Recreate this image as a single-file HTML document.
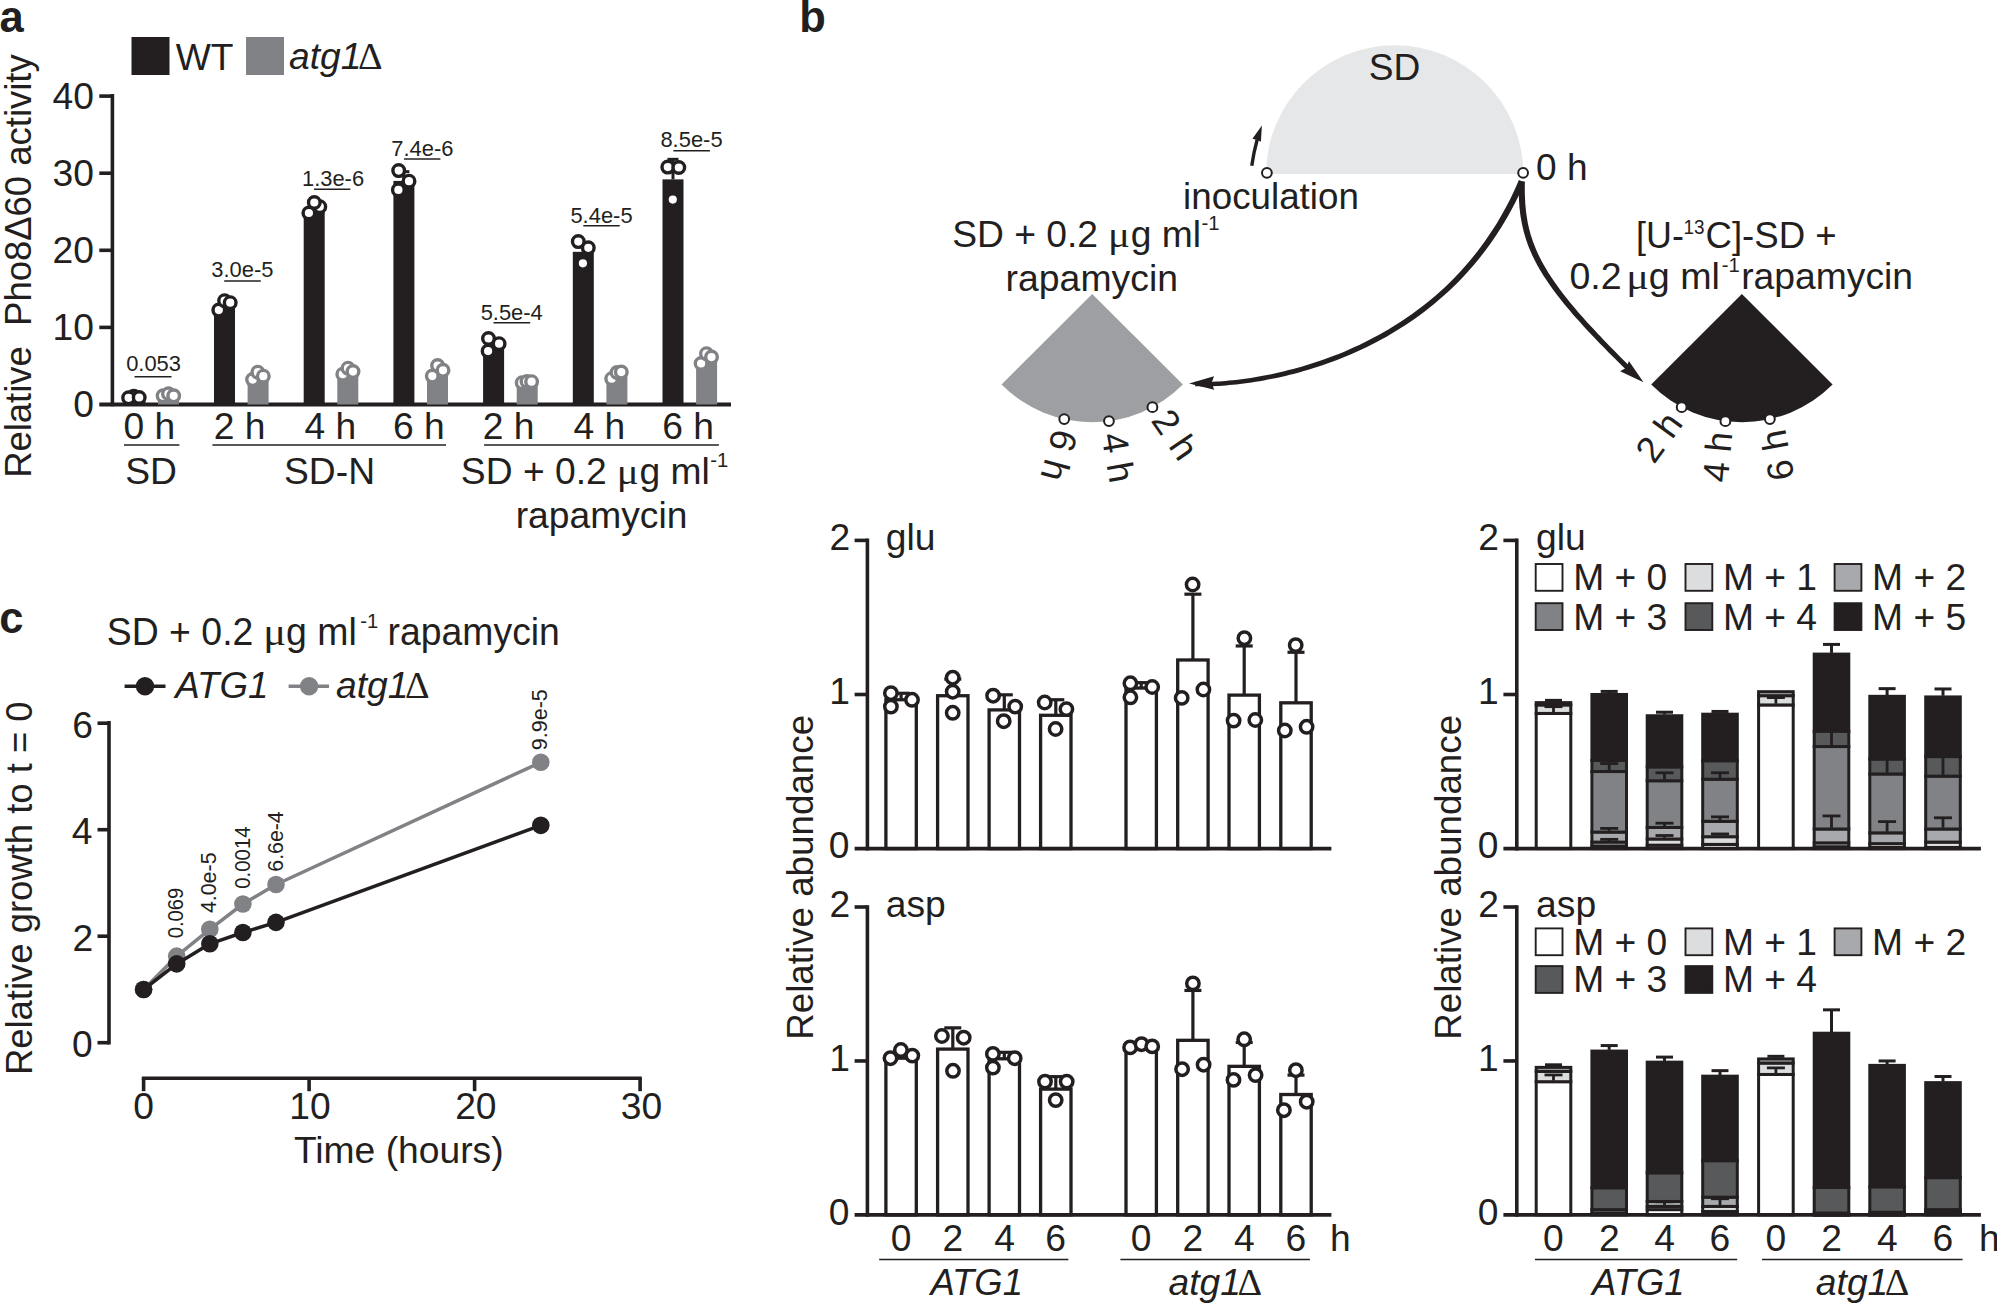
<!DOCTYPE html>
<html><head><meta charset="utf-8"><title>Figure</title>
<style>html,body{margin:0;padding:0;background:#fff}svg{display:block}</style></head>
<body><svg width="1997" height="1304" viewBox="0 0 1997 1304">
<rect width="1997" height="1304" fill="#fff"/>
<text transform="translate(0.75,31.70)" x="-1.30" y="0" font-family='"Liberation Sans", sans-serif' font-size="43.5" fill="#231f20" font-weight="bold">a</text>
<rect x="131.50" y="37.00" width="38.00" height="38.00" fill="#231f20"/>
<text transform="translate(175.80,69.60) scale(1.02,1)" x="-0.18" y="0" font-family='"Liberation Sans", sans-serif' font-size="36.5" fill="#231f20">WT</text>
<rect x="246.00" y="37.00" width="38.00" height="38.00" fill="#808285"/>
<text transform="translate(289.80,69.40) scale(1.02,1)" x="-0.73" y="0" font-family='"Liberation Sans", sans-serif' font-size="36.5" fill="#231f20" font-style="italic">atg1</text>
<text transform="translate(359.50,69.40) scale(1.02,1)" x="-1.50" y="0" font-family='"Liberation Serif", serif' font-size="37.5" fill="#231f20">Δ</text>
<line x1="112.40" y1="94.10" x2="112.40" y2="406.30" stroke="#231f20" stroke-width="3.6" stroke-linecap="butt"/>
<line x1="99.30" y1="404.50" x2="731.00" y2="404.50" stroke="#231f20" stroke-width="4" stroke-linecap="butt"/>
<line x1="99.30" y1="327.40" x2="112.40" y2="327.40" stroke="#231f20" stroke-width="3.6" stroke-linecap="butt"/>
<line x1="99.30" y1="250.30" x2="112.40" y2="250.30" stroke="#231f20" stroke-width="3.6" stroke-linecap="butt"/>
<line x1="99.30" y1="173.20" x2="112.40" y2="173.20" stroke="#231f20" stroke-width="3.6" stroke-linecap="butt"/>
<line x1="99.30" y1="96.10" x2="112.40" y2="96.10" stroke="#231f20" stroke-width="3.6" stroke-linecap="butt"/>
<text transform="translate(92.50,417.30) scale(1.02,1)" x="-18.98" y="0" font-family='"Liberation Sans", sans-serif' font-size="36.5" fill="#231f20">0</text>
<text transform="translate(92.50,340.20) scale(1.02,1)" x="-39.24" y="0" font-family='"Liberation Sans", sans-serif' font-size="36.5" fill="#231f20">10</text>
<text transform="translate(92.50,263.10) scale(1.02,1)" x="-39.24" y="0" font-family='"Liberation Sans", sans-serif' font-size="36.5" fill="#231f20">20</text>
<text transform="translate(92.50,186.00) scale(1.02,1)" x="-39.24" y="0" font-family='"Liberation Sans", sans-serif' font-size="36.5" fill="#231f20">30</text>
<text transform="translate(92.50,108.90) scale(1.02,1)" x="-39.24" y="0" font-family='"Liberation Sans", sans-serif' font-size="36.5" fill="#231f20">40</text>
<text transform="translate(31.00,264.50) rotate(-90) scale(0.9993,1)" x="-213.52" y="0" font-family='"Liberation Sans", sans-serif' font-size="36.5" fill="#231f20">Relative  Pho8Δ60 activity</text>
<rect x="124.40" y="396.79" width="21.00" height="7.71" fill="#231f20"/>
<rect x="158.00" y="396.02" width="21.00" height="8.48" fill="#808285"/>
<rect x="214.00" y="305.81" width="21.00" height="98.69" fill="#231f20"/>
<rect x="247.60" y="378.29" width="21.00" height="26.21" fill="#808285"/>
<line x1="224.50" y1="305.81" x2="224.50" y2="302.73" stroke="#231f20" stroke-width="3" stroke-linecap="butt"/>
<line x1="219.00" y1="302.73" x2="230.00" y2="302.73" stroke="#231f20" stroke-width="3" stroke-linecap="butt"/>
<rect x="303.70" y="209.44" width="21.00" height="195.06" fill="#231f20"/>
<rect x="337.30" y="373.66" width="21.00" height="30.84" fill="#808285"/>
<line x1="314.20" y1="209.44" x2="314.20" y2="204.81" stroke="#231f20" stroke-width="3" stroke-linecap="butt"/>
<line x1="308.70" y1="204.81" x2="319.70" y2="204.81" stroke="#231f20" stroke-width="3" stroke-linecap="butt"/>
<rect x="393.40" y="180.91" width="21.00" height="223.59" fill="#231f20"/>
<rect x="427.00" y="371.35" width="21.00" height="33.15" fill="#808285"/>
<line x1="403.90" y1="180.91" x2="403.90" y2="171.66" stroke="#231f20" stroke-width="3" stroke-linecap="butt"/>
<line x1="398.40" y1="171.66" x2="409.40" y2="171.66" stroke="#231f20" stroke-width="3" stroke-linecap="butt"/>
<rect x="483.10" y="345.90" width="21.00" height="58.60" fill="#231f20"/>
<rect x="516.70" y="382.14" width="21.00" height="22.36" fill="#808285"/>
<line x1="493.60" y1="345.90" x2="493.60" y2="339.74" stroke="#231f20" stroke-width="3" stroke-linecap="butt"/>
<line x1="488.10" y1="339.74" x2="499.10" y2="339.74" stroke="#231f20" stroke-width="3" stroke-linecap="butt"/>
<rect x="572.80" y="251.84" width="21.00" height="152.66" fill="#231f20"/>
<rect x="606.40" y="374.43" width="21.00" height="30.07" fill="#808285"/>
<line x1="583.30" y1="251.84" x2="583.30" y2="242.59" stroke="#231f20" stroke-width="3" stroke-linecap="butt"/>
<line x1="577.80" y1="242.59" x2="588.80" y2="242.59" stroke="#231f20" stroke-width="3" stroke-linecap="butt"/>
<rect x="662.50" y="179.37" width="21.00" height="225.13" fill="#231f20"/>
<rect x="696.10" y="360.55" width="21.00" height="43.95" fill="#808285"/>
<line x1="673.00" y1="179.37" x2="673.00" y2="159.32" stroke="#231f20" stroke-width="3" stroke-linecap="butt"/>
<line x1="667.50" y1="159.32" x2="678.50" y2="159.32" stroke="#231f20" stroke-width="3" stroke-linecap="butt"/>
<circle cx="133.80" cy="396.30" r="5.8" fill="#fff" stroke="#231f20" stroke-width="3.4"/>
<circle cx="128.60" cy="397.80" r="5.8" fill="#fff" stroke="#231f20" stroke-width="3.4"/>
<circle cx="139.20" cy="397.50" r="5.8" fill="#fff" stroke="#231f20" stroke-width="3.4"/>
<circle cx="218.80" cy="310.10" r="5.8" fill="#fff" stroke="#231f20" stroke-width="3.4"/>
<circle cx="224.60" cy="300.70" r="5.8" fill="#fff" stroke="#231f20" stroke-width="3.4"/>
<circle cx="230.20" cy="302.70" r="5.8" fill="#fff" stroke="#231f20" stroke-width="3.4"/>
<circle cx="319.80" cy="206.70" r="5.8" fill="#fff" stroke="#231f20" stroke-width="3.4"/>
<circle cx="308.90" cy="213.00" r="5.8" fill="#fff" stroke="#231f20" stroke-width="3.4"/>
<circle cx="314.30" cy="202.50" r="5.8" fill="#fff" stroke="#231f20" stroke-width="3.4"/>
<circle cx="398.40" cy="189.90" r="5.8" fill="#fff" stroke="#231f20" stroke-width="3.4"/>
<circle cx="398.70" cy="170.60" r="5.8" fill="#fff" stroke="#231f20" stroke-width="3.4"/>
<circle cx="409.00" cy="181.20" r="5.8" fill="#fff" stroke="#231f20" stroke-width="3.4"/>
<circle cx="488.50" cy="338.50" r="5.8" fill="#fff" stroke="#231f20" stroke-width="3.4"/>
<circle cx="499.10" cy="343.70" r="5.8" fill="#fff" stroke="#231f20" stroke-width="3.4"/>
<circle cx="488.10" cy="351.10" r="5.8" fill="#fff" stroke="#231f20" stroke-width="3.4"/>
<circle cx="578.30" cy="241.60" r="5.8" fill="#fff" stroke="#231f20" stroke-width="3.4"/>
<circle cx="588.30" cy="247.80" r="5.8" fill="#fff" stroke="#231f20" stroke-width="3.4"/>
<circle cx="582.90" cy="263.30" r="5.8" fill="#fff" stroke="#231f20" stroke-width="3.4"/>
<circle cx="667.80" cy="167.10" r="5.8" fill="#fff" stroke="#231f20" stroke-width="3.4"/>
<circle cx="678.80" cy="167.50" r="5.8" fill="#fff" stroke="#231f20" stroke-width="3.4"/>
<circle cx="672.80" cy="199.60" r="5.8" fill="#fff" stroke="#231f20" stroke-width="3.4"/>
<circle cx="163.10" cy="395.80" r="5.8" fill="#fff" stroke="#808285" stroke-width="3.4"/>
<circle cx="168.50" cy="393.80" r="5.8" fill="#fff" stroke="#808285" stroke-width="3.4"/>
<circle cx="173.70" cy="395.80" r="5.8" fill="#fff" stroke="#808285" stroke-width="3.4"/>
<circle cx="252.60" cy="379.60" r="5.8" fill="#fff" stroke="#808285" stroke-width="3.4"/>
<circle cx="257.80" cy="372.20" r="5.8" fill="#fff" stroke="#808285" stroke-width="3.4"/>
<circle cx="263.30" cy="376.20" r="5.8" fill="#fff" stroke="#808285" stroke-width="3.4"/>
<circle cx="342.80" cy="374.20" r="5.8" fill="#fff" stroke="#808285" stroke-width="3.4"/>
<circle cx="348.00" cy="368.20" r="5.8" fill="#fff" stroke="#808285" stroke-width="3.4"/>
<circle cx="353.00" cy="371.60" r="5.8" fill="#fff" stroke="#808285" stroke-width="3.4"/>
<circle cx="432.30" cy="376.10" r="5.8" fill="#fff" stroke="#808285" stroke-width="3.4"/>
<circle cx="437.60" cy="365.50" r="5.8" fill="#fff" stroke="#808285" stroke-width="3.4"/>
<circle cx="443.00" cy="370.30" r="5.8" fill="#fff" stroke="#808285" stroke-width="3.4"/>
<circle cx="522.20" cy="382.70" r="5.8" fill="#fff" stroke="#808285" stroke-width="3.4"/>
<circle cx="527.00" cy="381.50" r="5.8" fill="#fff" stroke="#808285" stroke-width="3.4"/>
<circle cx="531.60" cy="381.70" r="5.8" fill="#fff" stroke="#808285" stroke-width="3.4"/>
<circle cx="611.70" cy="378.70" r="5.8" fill="#fff" stroke="#808285" stroke-width="3.4"/>
<circle cx="617.00" cy="372.50" r="5.8" fill="#fff" stroke="#808285" stroke-width="3.4"/>
<circle cx="621.30" cy="372.10" r="5.8" fill="#fff" stroke="#808285" stroke-width="3.4"/>
<circle cx="701.10" cy="363.50" r="5.8" fill="#fff" stroke="#808285" stroke-width="3.4"/>
<circle cx="706.50" cy="353.70" r="5.8" fill="#fff" stroke="#808285" stroke-width="3.4"/>
<circle cx="711.50" cy="357.10" r="5.8" fill="#fff" stroke="#808285" stroke-width="3.4"/>
<text transform="translate(127.00,371.20) scale(1.02,1)" x="-0.86" y="0" font-family='"Liberation Sans", sans-serif' font-size="21.5" fill="#231f20">0.053</text>
<line x1="134.50" y1="376.80" x2="171.50" y2="376.80" stroke="#231f20" stroke-width="1.5" stroke-linecap="butt"/>
<text transform="translate(212.20,276.90) scale(1.02,1)" x="-0.86" y="0" font-family='"Liberation Sans", sans-serif' font-size="21.5" fill="#231f20">3.0e-5</text>
<line x1="224.20" y1="281.00" x2="260.80" y2="281.00" stroke="#231f20" stroke-width="1.5" stroke-linecap="butt"/>
<text transform="translate(303.60,185.70) scale(1.02,1)" x="-1.61" y="0" font-family='"Liberation Sans", sans-serif' font-size="21.5" fill="#231f20">1.3e-6</text>
<line x1="314.00" y1="189.30" x2="350.30" y2="189.30" stroke="#231f20" stroke-width="1.5" stroke-linecap="butt"/>
<text transform="translate(392.40,156.20) scale(1.02,1)" x="-1.07" y="0" font-family='"Liberation Sans", sans-serif' font-size="21.5" fill="#231f20">7.4e-6</text>
<line x1="404.00" y1="159.00" x2="440.40" y2="159.00" stroke="#231f20" stroke-width="1.5" stroke-linecap="butt"/>
<text transform="translate(481.50,319.50) scale(1.02,1)" x="-0.86" y="0" font-family='"Liberation Sans", sans-serif' font-size="21.5" fill="#231f20">5.5e-4</text>
<line x1="493.50" y1="322.70" x2="530.20" y2="322.70" stroke="#231f20" stroke-width="1.5" stroke-linecap="butt"/>
<text transform="translate(571.30,223.40) scale(1.02,1)" x="-0.86" y="0" font-family='"Liberation Sans", sans-serif' font-size="21.5" fill="#231f20">5.4e-5</text>
<line x1="583.30" y1="225.80" x2="619.70" y2="225.80" stroke="#231f20" stroke-width="1.5" stroke-linecap="butt"/>
<text transform="translate(661.40,147.20) scale(1.02,1)" x="-0.97" y="0" font-family='"Liberation Sans", sans-serif' font-size="21.5" fill="#231f20">8.5e-5</text>
<line x1="673.40" y1="150.70" x2="709.90" y2="150.70" stroke="#231f20" stroke-width="1.5" stroke-linecap="butt"/>
<text transform="translate(124.90,439.00) scale(1.02,1)" x="-1.46" y="0" font-family='"Liberation Sans", sans-serif' font-size="36.5" fill="#231f20">0 h</text>
<text transform="translate(215.50,439.00) scale(1.02,1)" x="-1.83" y="0" font-family='"Liberation Sans", sans-serif' font-size="36.5" fill="#231f20">2 h</text>
<text transform="translate(305.20,439.00) scale(1.02,1)" x="-0.73" y="0" font-family='"Liberation Sans", sans-serif' font-size="36.5" fill="#231f20">4 h</text>
<text transform="translate(394.90,439.00) scale(1.02,1)" x="-1.83" y="0" font-family='"Liberation Sans", sans-serif' font-size="36.5" fill="#231f20">6 h</text>
<text transform="translate(484.60,439.00) scale(1.02,1)" x="-1.83" y="0" font-family='"Liberation Sans", sans-serif' font-size="36.5" fill="#231f20">2 h</text>
<text transform="translate(574.30,439.00) scale(1.02,1)" x="-0.73" y="0" font-family='"Liberation Sans", sans-serif' font-size="36.5" fill="#231f20">4 h</text>
<text transform="translate(664.00,439.00) scale(1.02,1)" x="-1.83" y="0" font-family='"Liberation Sans", sans-serif' font-size="36.5" fill="#231f20">6 h</text>
<line x1="124.00" y1="445.00" x2="179.40" y2="445.00" stroke="#231f20" stroke-width="1.5" stroke-linecap="butt"/>
<line x1="212.40" y1="445.00" x2="446.00" y2="445.00" stroke="#231f20" stroke-width="1.5" stroke-linecap="butt"/>
<line x1="484.10" y1="445.00" x2="718.90" y2="445.00" stroke="#231f20" stroke-width="1.5" stroke-linecap="butt"/>
<text transform="translate(151.00,484.00) scale(1.02,1)" x="-25.28" y="0" font-family='"Liberation Sans", sans-serif' font-size="36.5" fill="#231f20">SD</text>
<text transform="translate(328.80,484.00) scale(1.02,1)" x="-43.89" y="0" font-family='"Liberation Sans", sans-serif' font-size="36.5" fill="#231f20">SD-N</text>
<text transform="translate(462.50,484.20) scale(1.02,1)" x="-1.64" y="0" font-family='"Liberation Sans", sans-serif' font-size="36.5" fill="#231f20">SD + 0.2</text>
<text transform="translate(619.90,484.20) scale(1.12,1)" x="-2.92" y="0" font-family='"Liberation Serif", serif' font-size="36.5" fill="#231f20">μ</text>
<text transform="translate(640.90,484.20) scale(1.02,1)" x="-1.46" y="0" font-family='"Liberation Sans", sans-serif' font-size="36.5" fill="#231f20">g ml</text>
<text transform="translate(711.17,466.90) scale(1.0385,1)" x="-0.88" y="0" font-family='"Liberation Sans", sans-serif' font-size="19.5" fill="#231f20">-1</text>
<text transform="translate(601.50,528.30) scale(1.02,1)" x="-84.13" y="0" font-family='"Liberation Sans", sans-serif' font-size="36.5" fill="#231f20">rapamycin</text>
<text transform="translate(1.00,633.10)" x="-1.74" y="0" font-family='"Liberation Sans", sans-serif' font-size="43.5" fill="#231f20" font-weight="bold">c</text>
<text transform="translate(108.40,644.90) scale(0.985,1)" x="-1.71" y="0" font-family='"Liberation Sans", sans-serif' font-size="38" fill="#231f20">SD + 0.2</text>
<text transform="translate(266.57,644.90) scale(1.12,1)" x="-3.04" y="0" font-family='"Liberation Serif", serif' font-size="38" fill="#231f20">μ</text>
<text transform="translate(287.57,644.90) scale(0.985,1)" x="-1.52" y="0" font-family='"Liberation Sans", sans-serif' font-size="38" fill="#231f20">g ml</text>
<text transform="translate(361.20,627.60) scale(1.0385,1)" x="-0.88" y="0" font-family='"Liberation Sans", sans-serif' font-size="19.5" fill="#231f20">-1</text>
<text transform="translate(390.00,644.90) scale(0.9833,1)" x="-2.47" y="0" font-family='"Liberation Sans", sans-serif' font-size="38" fill="#231f20">rapamycin</text>
<line x1="124.60" y1="686.30" x2="165.50" y2="686.30" stroke="#231f20" stroke-width="3.5" stroke-linecap="butt"/>
<circle cx="145.00" cy="686.30" r="9.2" fill="#231f20"/>
<text transform="translate(173.50,698.00) scale(1.006,1)" x="1.83" y="0" font-family='"Liberation Sans", sans-serif' font-size="36.5" fill="#231f20" font-style="italic">ATG1</text>
<line x1="288.60" y1="686.30" x2="329.00" y2="686.30" stroke="#808285" stroke-width="3.5" stroke-linecap="butt"/>
<circle cx="309.10" cy="686.30" r="9.2" fill="#808285"/>
<text transform="translate(336.70,698.00) scale(1.02,1)" x="-0.73" y="0" font-family='"Liberation Sans", sans-serif' font-size="36.5" fill="#231f20" font-style="italic">atg1</text>
<text transform="translate(406.40,698.00) scale(1.02,1)" x="-1.50" y="0" font-family='"Liberation Serif", serif' font-size="37.5" fill="#231f20">Δ</text>
<line x1="109.00" y1="720.90" x2="109.00" y2="1044.50" stroke="#231f20" stroke-width="3.6" stroke-linecap="butt"/>
<line x1="97.50" y1="1042.70" x2="109.00" y2="1042.70" stroke="#231f20" stroke-width="3.6" stroke-linecap="butt"/>
<text transform="translate(91.30,1057.00) scale(1.02,1)" x="-18.98" y="0" font-family='"Liberation Sans", sans-serif' font-size="36.5" fill="#231f20">0</text>
<line x1="97.50" y1="936.20" x2="109.00" y2="936.20" stroke="#231f20" stroke-width="3.6" stroke-linecap="butt"/>
<text transform="translate(91.30,950.50) scale(1.02,1)" x="-18.43" y="0" font-family='"Liberation Sans", sans-serif' font-size="36.5" fill="#231f20">2</text>
<line x1="97.50" y1="829.70" x2="109.00" y2="829.70" stroke="#231f20" stroke-width="3.6" stroke-linecap="butt"/>
<text transform="translate(91.30,844.00) scale(1.02,1)" x="-19.16" y="0" font-family='"Liberation Sans", sans-serif' font-size="36.5" fill="#231f20">4</text>
<line x1="97.50" y1="723.20" x2="109.00" y2="723.20" stroke="#231f20" stroke-width="3.6" stroke-linecap="butt"/>
<text transform="translate(91.30,737.50) scale(1.02,1)" x="-18.80" y="0" font-family='"Liberation Sans", sans-serif' font-size="36.5" fill="#231f20">6</text>
<line x1="141.80" y1="1078.30" x2="641.80" y2="1078.30" stroke="#231f20" stroke-width="3.6" stroke-linecap="butt"/>
<line x1="143.60" y1="1078.30" x2="143.60" y2="1091.20" stroke="#231f20" stroke-width="3.6" stroke-linecap="butt"/>
<text transform="translate(143.60,1119.00) scale(1.02,1)" x="-10.22" y="0" font-family='"Liberation Sans", sans-serif' font-size="36.5" fill="#231f20">0</text>
<line x1="309.10" y1="1078.30" x2="309.10" y2="1091.20" stroke="#231f20" stroke-width="3.6" stroke-linecap="butt"/>
<text transform="translate(310.60,1119.00) scale(1.02,1)" x="-20.99" y="0" font-family='"Liberation Sans", sans-serif' font-size="36.5" fill="#231f20">10</text>
<line x1="474.60" y1="1078.30" x2="474.60" y2="1091.20" stroke="#231f20" stroke-width="3.6" stroke-linecap="butt"/>
<text transform="translate(476.10,1119.00) scale(1.02,1)" x="-20.53" y="0" font-family='"Liberation Sans", sans-serif' font-size="36.5" fill="#231f20">20</text>
<line x1="640.10" y1="1078.30" x2="640.10" y2="1091.20" stroke="#231f20" stroke-width="3.6" stroke-linecap="butt"/>
<text transform="translate(641.60,1119.00) scale(1.02,1)" x="-20.35" y="0" font-family='"Liberation Sans", sans-serif' font-size="36.5" fill="#231f20">30</text>
<text transform="translate(398.00,1162.80) scale(1.02,1)" x="-102.02" y="0" font-family='"Liberation Sans", sans-serif' font-size="36.5" fill="#231f20">Time (hours)</text>
<text transform="translate(32.00,887.40) rotate(-90) scale(0.9984,1)" x="-187.98" y="0" font-family='"Liberation Sans", sans-serif' font-size="36.5" fill="#231f20">Relative growth to t = 0</text>
<polyline points="143.6,989.5 176.7,956.2 209.8,929.3 242.9,904.0 276.0,884.5 540.8,762.3" fill="none" stroke="#808285" stroke-width="3.5" stroke-linejoin="round"/>
<circle cx="143.60" cy="989.45" r="8.8" fill="#808285"/>
<circle cx="176.70" cy="956.17" r="8.8" fill="#808285"/>
<circle cx="209.80" cy="929.28" r="8.8" fill="#808285"/>
<circle cx="242.90" cy="903.98" r="8.8" fill="#808285"/>
<circle cx="276.00" cy="884.55" r="8.8" fill="#808285"/>
<circle cx="540.80" cy="762.29" r="8.8" fill="#808285"/>
<polyline points="143.6,989.5 176.7,963.9 209.8,943.8 242.9,932.5 276.0,922.4 540.8,825.3" fill="none" stroke="#231f20" stroke-width="3.5" stroke-linejoin="round"/>
<circle cx="143.60" cy="989.45" r="8.8" fill="#231f20"/>
<circle cx="176.70" cy="963.89" r="8.8" fill="#231f20"/>
<circle cx="209.80" cy="943.76" r="8.8" fill="#231f20"/>
<circle cx="242.90" cy="932.47" r="8.8" fill="#231f20"/>
<circle cx="276.00" cy="922.36" r="8.8" fill="#231f20"/>
<circle cx="540.80" cy="825.33" r="8.8" fill="#231f20"/>
<text transform="translate(182.60,937.50) rotate(-90) scale(0.9418,1)" x="-0.86" y="0" font-family='"Liberation Sans", sans-serif' font-size="21.5" fill="#231f20">0.069</text>
<text transform="translate(216.40,912.70) rotate(-90) scale(0.9956,1)" x="-0.43" y="0" font-family='"Liberation Sans", sans-serif' font-size="21.5" fill="#231f20">4.0e-5</text>
<text transform="translate(249.80,887.90) rotate(-90) scale(0.9473,1)" x="-0.86" y="0" font-family='"Liberation Sans", sans-serif' font-size="21.5" fill="#231f20">0.0014</text>
<text transform="translate(283.30,870.60) rotate(-90) scale(0.9893,1)" x="-1.07" y="0" font-family='"Liberation Sans", sans-serif' font-size="21.5" fill="#231f20">6.6e-4</text>
<text transform="translate(547.30,749.20) rotate(-90) scale(0.9996,1)" x="-0.97" y="0" font-family='"Liberation Sans", sans-serif' font-size="21.5" fill="#231f20">9.9e-5</text>
<text transform="translate(802.00,32.20)" x="-2.83" y="0" font-family='"Liberation Sans", sans-serif' font-size="43.5" fill="#231f20" font-weight="bold">b</text>
<path d="M1266.1000000000001,173.9 A128.6,128.6 0 0 1 1523.3,173.9 Z" fill="#e6e7e8"/>
<text transform="translate(1370.30,79.60) scale(1.0176,1)" x="-1.64" y="0" font-family='"Liberation Sans", sans-serif' font-size="36.5" fill="#231f20">SD</text>
<polygon points="1518.9,180.1 1516.0,186.8 1513.0,193.3 1509.9,199.7 1506.6,205.9 1503.3,212.1 1499.9,218.0 1496.4,223.9 1492.8,229.6 1489.1,235.1 1485.4,240.5 1481.6,245.8 1477.7,251.0 1473.7,256.1 1469.6,261.0 1465.5,265.8 1461.3,270.4 1457.1,275.0 1452.8,279.4 1448.5,283.7 1444.1,287.9 1439.6,291.9 1435.1,295.9 1430.6,299.7 1426.0,303.5 1421.4,307.1 1416.7,310.6 1412.1,314.0 1407.3,317.3 1402.6,320.5 1397.9,323.6 1393.1,326.6 1388.3,329.5 1383.5,332.3 1378.6,335.0 1373.8,337.6 1369.0,340.1 1364.1,342.6 1359.3,344.9 1354.5,347.1 1349.6,349.3 1344.8,351.4 1340.0,353.4 1335.2,355.3 1330.4,357.1 1325.7,358.8 1320.9,360.5 1316.2,362.1 1311.6,363.6 1306.9,365.1 1302.3,366.4 1297.7,367.7 1293.2,369.0 1288.7,370.1 1284.3,371.2 1279.9,372.3 1275.6,373.2 1271.3,374.2 1267.1,375.0 1262.9,375.8 1258.8,376.5 1254.8,377.2 1250.9,377.9 1247.0,378.4 1243.2,379.0 1239.5,379.4 1235.8,379.9 1232.3,380.3 1228.8,380.6 1225.4,380.9 1222.2,381.2 1219.0,381.4 1215.9,381.6 1212.9,381.7 1210.1,381.8 1207.3,381.9 1204.6,381.9 1202.1,381.9 1199.7,381.9 1197.4,381.9 1195.3,381.8 1195.1,386.2 1197.3,386.3 1199.6,386.3 1202.1,386.4 1204.7,386.4 1207.4,386.3 1210.2,386.3 1213.1,386.2 1216.1,386.0 1219.2,385.9 1222.5,385.7 1225.8,385.4 1229.2,385.1 1232.7,384.8 1236.3,384.4 1240.0,384.0 1243.8,383.5 1247.6,383.0 1251.6,382.5 1255.6,381.8 1259.6,381.2 1263.8,380.4 1268.0,379.6 1272.2,378.8 1276.6,377.9 1281.0,376.9 1285.4,375.9 1289.9,374.8 1294.4,373.7 1299.0,372.4 1303.7,371.1 1308.3,369.8 1313.0,368.3 1317.8,366.8 1322.5,365.2 1327.3,363.5 1332.2,361.8 1337.0,360.0 1341.9,358.1 1346.8,356.1 1351.7,354.0 1356.6,351.8 1361.5,349.6 1366.4,347.2 1371.3,344.8 1376.2,342.2 1381.2,339.6 1386.1,336.9 1391.0,334.1 1395.9,331.1 1400.7,328.1 1405.6,325.0 1410.4,321.8 1415.2,318.4 1420.0,315.0 1424.7,311.4 1429.4,307.8 1434.1,304.0 1438.7,300.1 1443.3,296.1 1447.9,292.0 1452.4,287.7 1456.8,283.4 1461.2,278.9 1465.6,274.3 1469.8,269.6 1474.0,264.7 1478.2,259.7 1482.3,254.6 1486.3,249.3 1490.2,244.0 1494.0,238.4 1497.8,232.8 1501.5,227.0 1505.1,221.1 1508.6,215.0 1512.0,208.8 1515.3,202.4 1518.5,196.0 1521.6,189.3 1524.7,182.5" fill="#231f20"/>
<polygon points="1189.1,383.5 1214.0,376.3 1211.6,383.1 1214.2,389.7" fill="#231f20"/>
<polygon points="1518.7,181.2 1518.7,183.6 1518.6,186.0 1518.6,188.3 1518.7,190.7 1518.7,193.0 1518.8,195.3 1518.9,197.5 1519.0,199.8 1519.1,202.0 1519.3,204.2 1519.4,206.4 1519.6,208.6 1519.9,210.8 1520.1,212.9 1520.4,215.1 1520.7,217.2 1521.1,219.3 1521.5,221.4 1521.9,223.5 1522.3,225.6 1522.8,227.7 1523.3,229.8 1523.8,231.9 1524.4,234.0 1525.0,236.0 1525.6,238.1 1526.3,240.2 1527.0,242.2 1527.7,244.3 1528.5,246.4 1529.3,248.4 1530.2,250.5 1531.1,252.6 1532.0,254.7 1533.0,256.8 1534.0,258.8 1535.1,260.9 1536.2,263.0 1537.3,265.2 1538.5,267.3 1539.7,269.4 1541.0,271.6 1542.3,273.7 1543.7,275.9 1545.1,278.1 1546.6,280.3 1548.1,282.5 1549.6,284.8 1551.2,287.0 1552.8,289.3 1554.5,291.6 1556.3,293.9 1558.1,296.2 1559.9,298.6 1561.8,301.0 1563.8,303.4 1565.8,305.9 1567.8,308.3 1570.0,310.8 1572.1,313.4 1574.3,315.9 1576.6,318.5 1579.0,321.1 1581.4,323.8 1583.8,326.5 1586.3,329.2 1588.9,331.9 1591.5,334.7 1594.2,337.6 1597.0,340.5 1599.8,343.4 1602.7,346.3 1605.6,349.3 1608.6,352.4 1611.7,355.5 1614.8,358.6 1618.0,361.8 1621.3,365.0 1624.6,368.3 1628.0,371.6 1631.5,368.0 1628.2,364.7 1624.9,361.4 1621.6,358.2 1618.4,355.0 1615.3,351.8 1612.3,348.8 1609.3,345.7 1606.4,342.7 1603.5,339.8 1600.8,336.8 1598.0,334.0 1595.4,331.1 1592.8,328.3 1590.2,325.6 1587.8,322.9 1585.3,320.2 1583.0,317.5 1580.7,314.9 1578.4,312.4 1576.2,309.8 1574.1,307.3 1572.0,304.8 1570.0,302.4 1568.1,300.0 1566.1,297.6 1564.3,295.2 1562.5,292.9 1560.7,290.6 1559.0,288.3 1557.4,286.0 1555.8,283.8 1554.2,281.5 1552.7,279.3 1551.3,277.2 1549.9,275.0 1548.5,272.9 1547.2,270.8 1545.9,268.6 1544.7,266.6 1543.5,264.5 1542.4,262.4 1541.3,260.4 1540.2,258.3 1539.2,256.3 1538.2,254.3 1537.3,252.3 1536.4,250.3 1535.6,248.3 1534.8,246.3 1534.0,244.3 1533.2,242.3 1532.5,240.3 1531.9,238.3 1531.2,236.3 1530.6,234.4 1530.1,232.4 1529.6,230.4 1529.0,228.4 1528.6,226.4 1528.1,224.4 1527.7,222.4 1527.4,220.4 1527.0,218.3 1526.7,216.3 1526.4,214.2 1526.1,212.2 1525.9,210.1 1525.7,208.0 1525.5,205.9 1525.3,203.8 1525.2,201.6 1525.1,199.5 1525.0,197.3 1524.9,195.1 1524.8,192.9 1524.8,190.6 1524.8,188.3 1524.8,186.0 1524.8,183.7 1524.9,181.4" fill="#231f20"/>
<polygon points="1643.5,382.3 1620.1,371.2 1626.4,367.7 1628.9,360.9" fill="#231f20"/>
<circle cx="1266.90" cy="172.80" r="4.9" fill="#fff" stroke="#231f20" stroke-width="2"/>
<circle cx="1523.10" cy="172.80" r="4.9" fill="#fff" stroke="#231f20" stroke-width="2"/>
<text transform="translate(1537.60,180.00) scale(1.0149,1)" x="-1.46" y="0" font-family='"Liberation Sans", sans-serif' font-size="36.5" fill="#231f20">0 h</text>
<text transform="translate(1185.50,209.20) scale(1.0075,1)" x="-2.37" y="0" font-family='"Liberation Sans", sans-serif' font-size="36.5" fill="#231f20">inoculation</text>
<path d="M1251.75,165.8 Q1253.6,152.6 1257.2,139.5" fill="none" stroke="#231f20" stroke-width="3.4"/>
<polygon points="1261.9,125.4 1260.9,141.8 1257.4,140 1252.4,138.8" fill="#231f20"/>
<text transform="translate(953.80,247.10) scale(1.02,1)" x="-1.64" y="0" font-family='"Liberation Sans", sans-serif' font-size="36.5" fill="#231f20">SD + 0.2</text>
<text transform="translate(1111.20,247.10) scale(1.12,1)" x="-2.92" y="0" font-family='"Liberation Serif", serif' font-size="36.5" fill="#231f20">μ</text>
<text transform="translate(1132.20,247.10) scale(1.02,1)" x="-1.46" y="0" font-family='"Liberation Sans", sans-serif' font-size="36.5" fill="#231f20">g ml</text>
<text transform="translate(1202.47,229.80) scale(1.0385,1)" x="-0.88" y="0" font-family='"Liberation Sans", sans-serif' font-size="19.5" fill="#231f20">-1</text>
<text transform="translate(1008.00,291.40) scale(1.0243,1)" x="-2.37" y="0" font-family='"Liberation Sans", sans-serif' font-size="36.5" fill="#231f20">rapamycin</text>
<path d="M1092.2,293.9 L1001.5,384.6 A128.3,128.3 0 0 0 1182.9,384.6 Z" fill="#9d9fa2"/>
<path d="M1741.9,293.9 L1651.2,384.6 A128.3,128.3 0 0 0 1832.6,384.6 Z" fill="#231f20"/>
<circle cx="1152.43" cy="407.18" r="4.9" fill="#fff" stroke="#231f20" stroke-width="2"/>
<circle cx="1108.95" cy="421.10" r="4.9" fill="#fff" stroke="#231f20" stroke-width="2"/>
<circle cx="1064.21" cy="419.11" r="4.9" fill="#fff" stroke="#231f20" stroke-width="2"/>
<circle cx="1681.67" cy="407.18" r="4.9" fill="#fff" stroke="#231f20" stroke-width="2"/>
<circle cx="1725.38" cy="421.13" r="4.9" fill="#fff" stroke="#231f20" stroke-width="2"/>
<circle cx="1769.89" cy="419.11" r="4.9" fill="#fff" stroke="#231f20" stroke-width="2"/>
<text transform="translate(1178.00,460.80) rotate(55.5) scale(1.0099,1)" x="-48.36" y="0" font-family='"Liberation Sans", sans-serif' font-size="36.5" fill="#231f20">2 h</text>
<text transform="translate(1109.50,481.90) rotate(80) scale(0.9867,1)" x="-48.36" y="0" font-family='"Liberation Sans", sans-serif' font-size="36.5" fill="#231f20">4 h</text>
<text transform="translate(1040.90,474.70) rotate(105) scale(1.0099,1)" x="-48.36" y="0" font-family='"Liberation Sans", sans-serif' font-size="36.5" fill="#231f20">6 h</text>
<text transform="translate(1682.70,425.60) rotate(-54) scale(1.0099,1)" x="-48.36" y="0" font-family='"Liberation Sans", sans-serif' font-size="36.5" fill="#231f20">2 h</text>
<text transform="translate(1732.30,435.50) rotate(-84.5) scale(0.9867,1)" x="-48.36" y="0" font-family='"Liberation Sans", sans-serif' font-size="36.5" fill="#231f20">4 h</text>
<text transform="translate(1785.50,430.10) rotate(-100.5) scale(1.0099,1)" x="-48.36" y="0" font-family='"Liberation Sans", sans-serif' font-size="36.5" fill="#231f20">6 h</text>
<text transform="translate(1638.50,247.60) scale(0.9836,1)" x="-2.56" y="0" font-family='"Liberation Sans", sans-serif' font-size="36.5" fill="#231f20">[U-</text>
<text transform="translate(1684.80,234.40) scale(0.9689,1)" x="-1.46" y="0" font-family='"Liberation Sans", sans-serif' font-size="19.5" fill="#231f20">13</text>
<text transform="translate(1707.30,247.60) scale(1.0039,1)" x="-1.83" y="0" font-family='"Liberation Sans", sans-serif' font-size="36.5" fill="#231f20">C]-SD +</text>
<text transform="translate(1570.90,288.90) scale(1.0285,1)" x="-1.46" y="0" font-family='"Liberation Sans", sans-serif' font-size="36.5" fill="#231f20">0.2</text>
<text transform="translate(1629.70,288.90) scale(1.1553,1)" x="-2.92" y="0" font-family='"Liberation Serif", serif' font-size="36.5" fill="#231f20">μ</text>
<text transform="translate(1650.20,288.90) scale(1.0328,1)" x="-1.46" y="0" font-family='"Liberation Sans", sans-serif' font-size="36.5" fill="#231f20">g ml</text>
<text transform="translate(1722.60,271.60) scale(1.0385,1)" x="-0.88" y="0" font-family='"Liberation Sans", sans-serif' font-size="19.5" fill="#231f20">-1</text>
<text transform="translate(1743.60,288.90) scale(1.0213,1)" x="-2.37" y="0" font-family='"Liberation Sans", sans-serif' font-size="36.5" fill="#231f20">rapamycin</text>
<line x1="901.10" y1="699.74" x2="901.10" y2="693.27" stroke="#231f20" stroke-width="3.2" stroke-linecap="butt"/>
<line x1="892.60" y1="693.27" x2="909.60" y2="693.27" stroke="#231f20" stroke-width="3.2" stroke-linecap="butt"/>
<rect x="885.90" y="699.74" width="30.40" height="148.86" fill="#fff" stroke="#231f20" stroke-width="3.3"/>
<line x1="952.80" y1="695.73" x2="952.80" y2="679.09" stroke="#231f20" stroke-width="3.2" stroke-linecap="butt"/>
<line x1="944.30" y1="679.09" x2="961.30" y2="679.09" stroke="#231f20" stroke-width="3.2" stroke-linecap="butt"/>
<rect x="937.60" y="695.73" width="30.40" height="152.87" fill="#fff" stroke="#231f20" stroke-width="3.3"/>
<line x1="1004.30" y1="709.91" x2="1004.30" y2="694.81" stroke="#231f20" stroke-width="3.2" stroke-linecap="butt"/>
<line x1="995.80" y1="694.81" x2="1012.80" y2="694.81" stroke="#231f20" stroke-width="3.2" stroke-linecap="butt"/>
<rect x="989.10" y="709.91" width="30.40" height="138.69" fill="#fff" stroke="#231f20" stroke-width="3.3"/>
<line x1="1055.80" y1="715.30" x2="1055.80" y2="699.74" stroke="#231f20" stroke-width="3.2" stroke-linecap="butt"/>
<line x1="1047.30" y1="699.74" x2="1064.30" y2="699.74" stroke="#231f20" stroke-width="3.2" stroke-linecap="butt"/>
<rect x="1040.60" y="715.30" width="30.40" height="133.30" fill="#fff" stroke="#231f20" stroke-width="3.3"/>
<line x1="1141.20" y1="688.03" x2="1141.20" y2="682.63" stroke="#231f20" stroke-width="3.2" stroke-linecap="butt"/>
<line x1="1132.70" y1="682.63" x2="1149.70" y2="682.63" stroke="#231f20" stroke-width="3.2" stroke-linecap="butt"/>
<rect x="1126.00" y="688.03" width="30.40" height="160.57" fill="#fff" stroke="#231f20" stroke-width="3.3"/>
<line x1="1192.90" y1="659.98" x2="1192.90" y2="594.18" stroke="#231f20" stroke-width="3.2" stroke-linecap="butt"/>
<line x1="1184.40" y1="594.18" x2="1201.40" y2="594.18" stroke="#231f20" stroke-width="3.2" stroke-linecap="butt"/>
<rect x="1177.70" y="659.98" width="30.40" height="188.62" fill="#fff" stroke="#231f20" stroke-width="3.3"/>
<line x1="1244.20" y1="695.12" x2="1244.20" y2="645.96" stroke="#231f20" stroke-width="3.2" stroke-linecap="butt"/>
<line x1="1235.70" y1="645.96" x2="1252.70" y2="645.96" stroke="#231f20" stroke-width="3.2" stroke-linecap="butt"/>
<rect x="1229.00" y="695.12" width="30.40" height="153.48" fill="#fff" stroke="#231f20" stroke-width="3.3"/>
<line x1="1296.00" y1="702.82" x2="1296.00" y2="652.28" stroke="#231f20" stroke-width="3.2" stroke-linecap="butt"/>
<line x1="1287.50" y1="652.28" x2="1304.50" y2="652.28" stroke="#231f20" stroke-width="3.2" stroke-linecap="butt"/>
<rect x="1280.80" y="702.82" width="30.40" height="145.78" fill="#fff" stroke="#231f20" stroke-width="3.3"/>
<line x1="867.40" y1="538.60" x2="867.40" y2="850.40" stroke="#231f20" stroke-width="3.6" stroke-linecap="butt"/>
<line x1="854.60" y1="848.60" x2="1331.40" y2="848.60" stroke="#231f20" stroke-width="3.6" stroke-linecap="butt"/>
<line x1="854.60" y1="694.50" x2="867.40" y2="694.50" stroke="#231f20" stroke-width="3.6" stroke-linecap="butt"/>
<line x1="854.60" y1="540.40" x2="867.40" y2="540.40" stroke="#231f20" stroke-width="3.6" stroke-linecap="butt"/>
<text transform="translate(848.20,858.20) scale(1.02,1)" x="-18.98" y="0" font-family='"Liberation Sans", sans-serif' font-size="36.5" fill="#231f20">0</text>
<text transform="translate(848.20,704.10) scale(1.02,1)" x="-18.62" y="0" font-family='"Liberation Sans", sans-serif' font-size="36.5" fill="#231f20">1</text>
<text transform="translate(848.20,550.00) scale(1.02,1)" x="-18.43" y="0" font-family='"Liberation Sans", sans-serif' font-size="36.5" fill="#231f20">2</text>
<circle cx="890.90" cy="693.20" r="6.2" fill="#fff" stroke="#231f20" stroke-width="3.5"/>
<circle cx="890.90" cy="706.60" r="6.2" fill="#fff" stroke="#231f20" stroke-width="3.5"/>
<circle cx="912.00" cy="699.80" r="6.2" fill="#fff" stroke="#231f20" stroke-width="3.5"/>
<circle cx="952.70" cy="677.70" r="6.2" fill="#fff" stroke="#231f20" stroke-width="3.5"/>
<circle cx="952.70" cy="691.70" r="6.2" fill="#fff" stroke="#231f20" stroke-width="3.5"/>
<circle cx="952.70" cy="712.80" r="6.2" fill="#fff" stroke="#231f20" stroke-width="3.5"/>
<circle cx="993.10" cy="695.70" r="6.2" fill="#fff" stroke="#231f20" stroke-width="3.5"/>
<circle cx="1015.20" cy="706.60" r="6.2" fill="#fff" stroke="#231f20" stroke-width="3.5"/>
<circle cx="1003.70" cy="721.20" r="6.2" fill="#fff" stroke="#231f20" stroke-width="3.5"/>
<circle cx="1044.70" cy="702.50" r="6.2" fill="#fff" stroke="#231f20" stroke-width="3.5"/>
<circle cx="1066.40" cy="709.10" r="6.2" fill="#fff" stroke="#231f20" stroke-width="3.5"/>
<circle cx="1055.60" cy="729.00" r="6.2" fill="#fff" stroke="#231f20" stroke-width="3.5"/>
<circle cx="1130.40" cy="683.30" r="6.2" fill="#fff" stroke="#231f20" stroke-width="3.5"/>
<circle cx="1130.40" cy="697.30" r="6.2" fill="#fff" stroke="#231f20" stroke-width="3.5"/>
<circle cx="1152.20" cy="687.00" r="6.2" fill="#fff" stroke="#231f20" stroke-width="3.5"/>
<circle cx="1192.60" cy="584.50" r="6.2" fill="#fff" stroke="#231f20" stroke-width="3.5"/>
<circle cx="1181.70" cy="697.90" r="6.2" fill="#fff" stroke="#231f20" stroke-width="3.5"/>
<circle cx="1203.40" cy="689.50" r="6.2" fill="#fff" stroke="#231f20" stroke-width="3.5"/>
<circle cx="1244.40" cy="638.20" r="6.2" fill="#fff" stroke="#231f20" stroke-width="3.5"/>
<circle cx="1233.60" cy="720.60" r="6.2" fill="#fff" stroke="#231f20" stroke-width="3.5"/>
<circle cx="1255.30" cy="720.00" r="6.2" fill="#fff" stroke="#231f20" stroke-width="3.5"/>
<circle cx="1295.70" cy="645.10" r="6.2" fill="#fff" stroke="#231f20" stroke-width="3.5"/>
<circle cx="1284.80" cy="730.50" r="6.2" fill="#fff" stroke="#231f20" stroke-width="3.5"/>
<circle cx="1306.60" cy="726.80" r="6.2" fill="#fff" stroke="#231f20" stroke-width="3.5"/>
<text transform="translate(887.20,549.90) scale(1.02,1)" x="-1.46" y="0" font-family='"Liberation Sans", sans-serif' font-size="36.5" fill="#231f20">glu</text>
<line x1="901.10" y1="1058.18" x2="901.10" y2="1054.02" stroke="#231f20" stroke-width="3.2" stroke-linecap="butt"/>
<line x1="892.60" y1="1054.02" x2="909.60" y2="1054.02" stroke="#231f20" stroke-width="3.2" stroke-linecap="butt"/>
<rect x="885.90" y="1058.18" width="30.40" height="156.72" fill="#fff" stroke="#231f20" stroke-width="3.3"/>
<line x1="952.80" y1="1049.10" x2="952.80" y2="1027.85" stroke="#231f20" stroke-width="3.2" stroke-linecap="butt"/>
<line x1="944.30" y1="1027.85" x2="961.30" y2="1027.85" stroke="#231f20" stroke-width="3.2" stroke-linecap="butt"/>
<rect x="937.60" y="1049.10" width="30.40" height="165.80" fill="#fff" stroke="#231f20" stroke-width="3.3"/>
<line x1="1004.30" y1="1058.79" x2="1004.30" y2="1052.33" stroke="#231f20" stroke-width="3.2" stroke-linecap="butt"/>
<line x1="995.80" y1="1052.33" x2="1012.80" y2="1052.33" stroke="#231f20" stroke-width="3.2" stroke-linecap="butt"/>
<rect x="989.10" y="1058.79" width="30.40" height="156.11" fill="#fff" stroke="#231f20" stroke-width="3.3"/>
<line x1="1055.80" y1="1089.12" x2="1055.80" y2="1076.65" stroke="#231f20" stroke-width="3.2" stroke-linecap="butt"/>
<line x1="1047.30" y1="1076.65" x2="1064.30" y2="1076.65" stroke="#231f20" stroke-width="3.2" stroke-linecap="butt"/>
<rect x="1040.60" y="1089.12" width="30.40" height="125.78" fill="#fff" stroke="#231f20" stroke-width="3.3"/>
<line x1="1141.20" y1="1049.10" x2="1141.20" y2="1047.09" stroke="#231f20" stroke-width="3.2" stroke-linecap="butt"/>
<line x1="1132.70" y1="1047.09" x2="1149.70" y2="1047.09" stroke="#231f20" stroke-width="3.2" stroke-linecap="butt"/>
<rect x="1126.00" y="1049.10" width="30.40" height="165.80" fill="#fff" stroke="#231f20" stroke-width="3.3"/>
<line x1="1192.90" y1="1040.32" x2="1192.90" y2="990.44" stroke="#231f20" stroke-width="3.2" stroke-linecap="butt"/>
<line x1="1184.40" y1="990.44" x2="1201.40" y2="990.44" stroke="#231f20" stroke-width="3.2" stroke-linecap="butt"/>
<rect x="1177.70" y="1040.32" width="30.40" height="174.58" fill="#fff" stroke="#231f20" stroke-width="3.3"/>
<line x1="1244.20" y1="1066.34" x2="1244.20" y2="1042.48" stroke="#231f20" stroke-width="3.2" stroke-linecap="butt"/>
<line x1="1235.70" y1="1042.48" x2="1252.70" y2="1042.48" stroke="#231f20" stroke-width="3.2" stroke-linecap="butt"/>
<rect x="1229.00" y="1066.34" width="30.40" height="148.56" fill="#fff" stroke="#231f20" stroke-width="3.3"/>
<line x1="1296.00" y1="1094.51" x2="1296.00" y2="1075.11" stroke="#231f20" stroke-width="3.2" stroke-linecap="butt"/>
<line x1="1287.50" y1="1075.11" x2="1304.50" y2="1075.11" stroke="#231f20" stroke-width="3.2" stroke-linecap="butt"/>
<rect x="1280.80" y="1094.51" width="30.40" height="120.39" fill="#fff" stroke="#231f20" stroke-width="3.3"/>
<line x1="867.40" y1="905.20" x2="867.40" y2="1216.70" stroke="#231f20" stroke-width="3.6" stroke-linecap="butt"/>
<line x1="854.60" y1="1214.90" x2="1331.40" y2="1214.90" stroke="#231f20" stroke-width="3.6" stroke-linecap="butt"/>
<line x1="854.60" y1="1060.95" x2="867.40" y2="1060.95" stroke="#231f20" stroke-width="3.6" stroke-linecap="butt"/>
<line x1="854.60" y1="907.00" x2="867.40" y2="907.00" stroke="#231f20" stroke-width="3.6" stroke-linecap="butt"/>
<text transform="translate(848.20,1224.50) scale(1.02,1)" x="-18.98" y="0" font-family='"Liberation Sans", sans-serif' font-size="36.5" fill="#231f20">0</text>
<text transform="translate(848.20,1070.55) scale(1.02,1)" x="-18.62" y="0" font-family='"Liberation Sans", sans-serif' font-size="36.5" fill="#231f20">1</text>
<text transform="translate(848.20,916.60) scale(1.02,1)" x="-18.43" y="0" font-family='"Liberation Sans", sans-serif' font-size="36.5" fill="#231f20">2</text>
<circle cx="890.50" cy="1058.20" r="6.2" fill="#fff" stroke="#231f20" stroke-width="3.5"/>
<circle cx="900.90" cy="1050.00" r="6.2" fill="#fff" stroke="#231f20" stroke-width="3.5"/>
<circle cx="912.30" cy="1055.60" r="6.2" fill="#fff" stroke="#231f20" stroke-width="3.5"/>
<circle cx="941.90" cy="1036.00" r="6.2" fill="#fff" stroke="#231f20" stroke-width="3.5"/>
<circle cx="963.70" cy="1037.70" r="6.2" fill="#fff" stroke="#231f20" stroke-width="3.5"/>
<circle cx="953.00" cy="1070.80" r="6.2" fill="#fff" stroke="#231f20" stroke-width="3.5"/>
<circle cx="992.90" cy="1053.90" r="6.2" fill="#fff" stroke="#231f20" stroke-width="3.5"/>
<circle cx="992.90" cy="1067.60" r="6.2" fill="#fff" stroke="#231f20" stroke-width="3.5"/>
<circle cx="1014.70" cy="1058.20" r="6.2" fill="#fff" stroke="#231f20" stroke-width="3.5"/>
<circle cx="1045.00" cy="1081.60" r="6.2" fill="#fff" stroke="#231f20" stroke-width="3.5"/>
<circle cx="1066.70" cy="1081.60" r="6.2" fill="#fff" stroke="#231f20" stroke-width="3.5"/>
<circle cx="1055.70" cy="1100.10" r="6.2" fill="#fff" stroke="#231f20" stroke-width="3.5"/>
<circle cx="1130.10" cy="1047.40" r="6.2" fill="#fff" stroke="#231f20" stroke-width="3.5"/>
<circle cx="1141.50" cy="1044.20" r="6.2" fill="#fff" stroke="#231f20" stroke-width="3.5"/>
<circle cx="1152.20" cy="1046.40" r="6.2" fill="#fff" stroke="#231f20" stroke-width="3.5"/>
<circle cx="1192.90" cy="983.40" r="6.2" fill="#fff" stroke="#231f20" stroke-width="3.5"/>
<circle cx="1182.10" cy="1069.20" r="6.2" fill="#fff" stroke="#231f20" stroke-width="3.5"/>
<circle cx="1203.60" cy="1064.70" r="6.2" fill="#fff" stroke="#231f20" stroke-width="3.5"/>
<circle cx="1244.20" cy="1039.30" r="6.2" fill="#fff" stroke="#231f20" stroke-width="3.5"/>
<circle cx="1233.50" cy="1079.90" r="6.2" fill="#fff" stroke="#231f20" stroke-width="3.5"/>
<circle cx="1255.60" cy="1075.10" r="6.2" fill="#fff" stroke="#231f20" stroke-width="3.5"/>
<circle cx="1295.90" cy="1070.20" r="6.2" fill="#fff" stroke="#231f20" stroke-width="3.5"/>
<circle cx="1283.90" cy="1110.20" r="6.2" fill="#fff" stroke="#231f20" stroke-width="3.5"/>
<circle cx="1306.70" cy="1101.70" r="6.2" fill="#fff" stroke="#231f20" stroke-width="3.5"/>
<text transform="translate(887.20,916.50) scale(1.02,1)" x="-1.46" y="0" font-family='"Liberation Sans", sans-serif' font-size="36.5" fill="#231f20">asp</text>
<text transform="translate(813.40,876.70) rotate(-90) scale(1.0072,1)" x="-161.97" y="0" font-family='"Liberation Sans", sans-serif' font-size="36.5" fill="#231f20">Relative abundance</text>
<text transform="translate(901.10,1250.70) scale(1.02,1)" x="-10.22" y="0" font-family='"Liberation Sans", sans-serif' font-size="36.5" fill="#231f20">0</text>
<text transform="translate(952.80,1250.70) scale(1.02,1)" x="-10.13" y="0" font-family='"Liberation Sans", sans-serif' font-size="36.5" fill="#231f20">2</text>
<text transform="translate(1004.30,1250.70) scale(1.02,1)" x="-9.95" y="0" font-family='"Liberation Sans", sans-serif' font-size="36.5" fill="#231f20">4</text>
<text transform="translate(1055.80,1250.70) scale(1.02,1)" x="-10.31" y="0" font-family='"Liberation Sans", sans-serif' font-size="36.5" fill="#231f20">6</text>
<text transform="translate(1141.20,1250.70) scale(1.02,1)" x="-10.22" y="0" font-family='"Liberation Sans", sans-serif' font-size="36.5" fill="#231f20">0</text>
<text transform="translate(1192.90,1250.70) scale(1.02,1)" x="-10.13" y="0" font-family='"Liberation Sans", sans-serif' font-size="36.5" fill="#231f20">2</text>
<text transform="translate(1244.20,1250.70) scale(1.02,1)" x="-9.95" y="0" font-family='"Liberation Sans", sans-serif' font-size="36.5" fill="#231f20">4</text>
<text transform="translate(1296.00,1250.70) scale(1.02,1)" x="-10.31" y="0" font-family='"Liberation Sans", sans-serif' font-size="36.5" fill="#231f20">6</text>
<text transform="translate(1332.70,1250.70) scale(1.02,1)" x="-2.56" y="0" font-family='"Liberation Sans", sans-serif' font-size="36.5" fill="#231f20">h</text>
<line x1="879.20" y1="1259.50" x2="1068.40" y2="1259.50" stroke="#231f20" stroke-width="1.5" stroke-linecap="butt"/>
<line x1="1120.40" y1="1259.50" x2="1309.90" y2="1259.50" stroke="#231f20" stroke-width="1.5" stroke-linecap="butt"/>
<text transform="translate(974.20,1294.60) scale(0.9973,1)" x="-43.80" y="0" font-family='"Liberation Sans", sans-serif' font-size="36.5" fill="#231f20" font-style="italic">ATG1</text>
<text transform="translate(1169.30,1294.60) scale(1.02,1)" x="-0.73" y="0" font-family='"Liberation Sans", sans-serif' font-size="36.5" fill="#231f20" font-style="italic">atg1</text>
<text transform="translate(1239.00,1294.60) scale(1.02,1)" x="-1.50" y="0" font-family='"Liberation Serif", serif' font-size="37.5" fill="#231f20">Δ</text>
<line x1="1553.50" y1="701.43" x2="1553.50" y2="700.36" stroke="#231f20" stroke-width="3" stroke-linecap="butt"/>
<line x1="1545.00" y1="700.36" x2="1562.00" y2="700.36" stroke="#231f20" stroke-width="3" stroke-linecap="butt"/>
<rect x="1536.20" y="713.42" width="34.60" height="135.18" fill="#fff" stroke="#231f20" stroke-width="3"/>
<rect x="1536.20" y="704.95" width="34.60" height="8.48" fill="#dcddde" stroke="#231f20" stroke-width="3"/>
<rect x="1536.20" y="702.63" width="34.60" height="2.31" fill="#a7a9ac" stroke="#231f20" stroke-width="3"/>
<line x1="1609.20" y1="693.27" x2="1609.20" y2="691.42" stroke="#231f20" stroke-width="3" stroke-linecap="butt"/>
<line x1="1600.70" y1="691.42" x2="1617.70" y2="691.42" stroke="#231f20" stroke-width="3" stroke-linecap="butt"/>
<rect x="1591.90" y="845.95" width="34.60" height="2.65" fill="#fff" stroke="#231f20" stroke-width="3"/>
<rect x="1591.90" y="842.10" width="34.60" height="3.85" fill="#dcddde" stroke="#231f20" stroke-width="3"/>
<rect x="1591.90" y="832.08" width="34.60" height="10.02" fill="#a7a9ac" stroke="#231f20" stroke-width="3"/>
<rect x="1591.90" y="771.52" width="34.60" height="60.56" fill="#808285" stroke="#231f20" stroke-width="3"/>
<rect x="1591.90" y="760.42" width="34.60" height="11.10" fill="#58595b" stroke="#231f20" stroke-width="3"/>
<rect x="1591.90" y="694.47" width="34.60" height="65.95" fill="#231f20" stroke="#231f20" stroke-width="3"/>
<line x1="1664.50" y1="714.53" x2="1664.50" y2="712.22" stroke="#231f20" stroke-width="3" stroke-linecap="butt"/>
<line x1="1656.00" y1="712.22" x2="1673.00" y2="712.22" stroke="#231f20" stroke-width="3" stroke-linecap="butt"/>
<rect x="1647.20" y="845.18" width="34.60" height="3.42" fill="#fff" stroke="#231f20" stroke-width="3"/>
<rect x="1647.20" y="839.01" width="34.60" height="6.16" fill="#dcddde" stroke="#231f20" stroke-width="3"/>
<rect x="1647.20" y="827.46" width="34.60" height="11.56" fill="#a7a9ac" stroke="#231f20" stroke-width="3"/>
<rect x="1647.20" y="780.76" width="34.60" height="46.69" fill="#808285" stroke="#231f20" stroke-width="3"/>
<rect x="1647.20" y="766.89" width="34.60" height="13.87" fill="#58595b" stroke="#231f20" stroke-width="3"/>
<rect x="1647.20" y="715.73" width="34.60" height="51.16" fill="#231f20" stroke="#231f20" stroke-width="3"/>
<line x1="1720.00" y1="712.99" x2="1720.00" y2="711.45" stroke="#231f20" stroke-width="3" stroke-linecap="butt"/>
<line x1="1711.50" y1="711.45" x2="1728.50" y2="711.45" stroke="#231f20" stroke-width="3" stroke-linecap="butt"/>
<rect x="1702.70" y="844.41" width="34.60" height="4.19" fill="#fff" stroke="#231f20" stroke-width="3"/>
<rect x="1702.70" y="836.70" width="34.60" height="7.71" fill="#dcddde" stroke="#231f20" stroke-width="3"/>
<rect x="1702.70" y="821.29" width="34.60" height="15.41" fill="#a7a9ac" stroke="#231f20" stroke-width="3"/>
<rect x="1702.70" y="779.22" width="34.60" height="42.07" fill="#808285" stroke="#231f20" stroke-width="3"/>
<rect x="1702.70" y="760.73" width="34.60" height="18.49" fill="#58595b" stroke="#231f20" stroke-width="3"/>
<rect x="1702.70" y="714.19" width="34.60" height="46.54" fill="#231f20" stroke="#231f20" stroke-width="3"/>
<rect x="1758.60" y="704.95" width="34.60" height="143.65" fill="#fff" stroke="#231f20" stroke-width="3"/>
<rect x="1758.60" y="695.70" width="34.60" height="9.25" fill="#dcddde" stroke="#231f20" stroke-width="3"/>
<rect x="1758.60" y="691.69" width="34.60" height="4.01" fill="#a7a9ac" stroke="#231f20" stroke-width="3"/>
<line x1="1831.50" y1="652.89" x2="1831.50" y2="644.42" stroke="#231f20" stroke-width="3" stroke-linecap="butt"/>
<line x1="1823.00" y1="644.42" x2="1840.00" y2="644.42" stroke="#231f20" stroke-width="3" stroke-linecap="butt"/>
<rect x="1814.20" y="846.72" width="34.60" height="1.88" fill="#fff" stroke="#231f20" stroke-width="3"/>
<rect x="1814.20" y="842.87" width="34.60" height="3.85" fill="#dcddde" stroke="#231f20" stroke-width="3"/>
<rect x="1814.20" y="829.00" width="34.60" height="13.87" fill="#a7a9ac" stroke="#231f20" stroke-width="3"/>
<rect x="1814.20" y="746.55" width="34.60" height="82.44" fill="#808285" stroke="#231f20" stroke-width="3"/>
<rect x="1814.20" y="731.14" width="34.60" height="15.41" fill="#58595b" stroke="#231f20" stroke-width="3"/>
<rect x="1814.20" y="654.09" width="34.60" height="77.05" fill="#231f20" stroke="#231f20" stroke-width="3"/>
<line x1="1887.10" y1="695.12" x2="1887.10" y2="688.64" stroke="#231f20" stroke-width="3" stroke-linecap="butt"/>
<line x1="1878.60" y1="688.64" x2="1895.60" y2="688.64" stroke="#231f20" stroke-width="3" stroke-linecap="butt"/>
<rect x="1869.80" y="847.49" width="34.60" height="1.11" fill="#fff" stroke="#231f20" stroke-width="3"/>
<rect x="1869.80" y="843.64" width="34.60" height="3.85" fill="#dcddde" stroke="#231f20" stroke-width="3"/>
<rect x="1869.80" y="832.85" width="34.60" height="10.79" fill="#a7a9ac" stroke="#231f20" stroke-width="3"/>
<rect x="1869.80" y="773.98" width="34.60" height="58.87" fill="#808285" stroke="#231f20" stroke-width="3"/>
<rect x="1869.80" y="759.04" width="34.60" height="14.95" fill="#58595b" stroke="#231f20" stroke-width="3"/>
<rect x="1869.80" y="696.32" width="34.60" height="62.72" fill="#231f20" stroke="#231f20" stroke-width="3"/>
<line x1="1943.00" y1="695.73" x2="1943.00" y2="688.95" stroke="#231f20" stroke-width="3" stroke-linecap="butt"/>
<line x1="1934.50" y1="688.95" x2="1951.50" y2="688.95" stroke="#231f20" stroke-width="3" stroke-linecap="butt"/>
<rect x="1925.70" y="847.49" width="34.60" height="1.11" fill="#fff" stroke="#231f20" stroke-width="3"/>
<rect x="1925.70" y="842.10" width="34.60" height="5.39" fill="#dcddde" stroke="#231f20" stroke-width="3"/>
<rect x="1925.70" y="829.00" width="34.60" height="13.10" fill="#a7a9ac" stroke="#231f20" stroke-width="3"/>
<rect x="1925.70" y="776.14" width="34.60" height="52.86" fill="#808285" stroke="#231f20" stroke-width="3"/>
<rect x="1925.70" y="756.57" width="34.60" height="19.57" fill="#58595b" stroke="#231f20" stroke-width="3"/>
<rect x="1925.70" y="696.93" width="34.60" height="59.64" fill="#231f20" stroke="#231f20" stroke-width="3"/>
<line x1="1553.50" y1="712.22" x2="1553.50" y2="706.67" stroke="#231f20" stroke-width="2.8" stroke-linecap="butt"/>
<line x1="1544.50" y1="706.67" x2="1562.50" y2="706.67" stroke="#231f20" stroke-width="2.8" stroke-linecap="butt"/>
<line x1="1609.20" y1="770.32" x2="1609.20" y2="763.54" stroke="#231f20" stroke-width="2.8" stroke-linecap="butt"/>
<line x1="1600.20" y1="763.54" x2="1618.20" y2="763.54" stroke="#231f20" stroke-width="2.8" stroke-linecap="butt"/>
<line x1="1609.20" y1="830.88" x2="1609.20" y2="828.41" stroke="#231f20" stroke-width="2.8" stroke-linecap="butt"/>
<line x1="1600.20" y1="828.41" x2="1618.20" y2="828.41" stroke="#231f20" stroke-width="2.8" stroke-linecap="butt"/>
<line x1="1609.20" y1="841.82" x2="1609.20" y2="839.35" stroke="#231f20" stroke-width="2.8" stroke-linecap="butt"/>
<line x1="1600.20" y1="839.35" x2="1618.20" y2="839.35" stroke="#231f20" stroke-width="2.8" stroke-linecap="butt"/>
<line x1="1664.50" y1="779.56" x2="1664.50" y2="772.78" stroke="#231f20" stroke-width="2.8" stroke-linecap="butt"/>
<line x1="1655.50" y1="772.78" x2="1673.50" y2="772.78" stroke="#231f20" stroke-width="2.8" stroke-linecap="butt"/>
<line x1="1664.50" y1="826.26" x2="1664.50" y2="823.17" stroke="#231f20" stroke-width="2.8" stroke-linecap="butt"/>
<line x1="1655.50" y1="823.17" x2="1673.50" y2="823.17" stroke="#231f20" stroke-width="2.8" stroke-linecap="butt"/>
<line x1="1664.50" y1="837.81" x2="1664.50" y2="835.50" stroke="#231f20" stroke-width="2.8" stroke-linecap="butt"/>
<line x1="1655.50" y1="835.50" x2="1673.50" y2="835.50" stroke="#231f20" stroke-width="2.8" stroke-linecap="butt"/>
<line x1="1720.00" y1="778.02" x2="1720.00" y2="772.78" stroke="#231f20" stroke-width="2.8" stroke-linecap="butt"/>
<line x1="1711.00" y1="772.78" x2="1729.00" y2="772.78" stroke="#231f20" stroke-width="2.8" stroke-linecap="butt"/>
<line x1="1720.00" y1="820.09" x2="1720.00" y2="816.86" stroke="#231f20" stroke-width="2.8" stroke-linecap="butt"/>
<line x1="1711.00" y1="816.86" x2="1729.00" y2="816.86" stroke="#231f20" stroke-width="2.8" stroke-linecap="butt"/>
<line x1="1720.00" y1="835.50" x2="1720.00" y2="833.96" stroke="#231f20" stroke-width="2.8" stroke-linecap="butt"/>
<line x1="1711.00" y1="833.96" x2="1729.00" y2="833.96" stroke="#231f20" stroke-width="2.8" stroke-linecap="butt"/>
<line x1="1775.90" y1="703.75" x2="1775.90" y2="697.58" stroke="#231f20" stroke-width="2.8" stroke-linecap="butt"/>
<line x1="1766.90" y1="697.58" x2="1784.90" y2="697.58" stroke="#231f20" stroke-width="2.8" stroke-linecap="butt"/>
<line x1="1831.50" y1="745.35" x2="1831.50" y2="728.40" stroke="#231f20" stroke-width="2.8" stroke-linecap="butt"/>
<line x1="1822.50" y1="728.40" x2="1840.50" y2="728.40" stroke="#231f20" stroke-width="2.8" stroke-linecap="butt"/>
<line x1="1831.50" y1="827.80" x2="1831.50" y2="815.93" stroke="#231f20" stroke-width="2.8" stroke-linecap="butt"/>
<line x1="1822.50" y1="815.93" x2="1840.50" y2="815.93" stroke="#231f20" stroke-width="2.8" stroke-linecap="butt"/>
<line x1="1887.10" y1="772.78" x2="1887.10" y2="756.14" stroke="#231f20" stroke-width="2.8" stroke-linecap="butt"/>
<line x1="1878.10" y1="756.14" x2="1896.10" y2="756.14" stroke="#231f20" stroke-width="2.8" stroke-linecap="butt"/>
<line x1="1887.10" y1="831.65" x2="1887.10" y2="821.63" stroke="#231f20" stroke-width="2.8" stroke-linecap="butt"/>
<line x1="1878.10" y1="821.63" x2="1896.10" y2="821.63" stroke="#231f20" stroke-width="2.8" stroke-linecap="butt"/>
<line x1="1943.00" y1="774.94" x2="1943.00" y2="754.60" stroke="#231f20" stroke-width="2.8" stroke-linecap="butt"/>
<line x1="1934.00" y1="754.60" x2="1952.00" y2="754.60" stroke="#231f20" stroke-width="2.8" stroke-linecap="butt"/>
<line x1="1943.00" y1="827.80" x2="1943.00" y2="817.78" stroke="#231f20" stroke-width="2.8" stroke-linecap="butt"/>
<line x1="1934.00" y1="817.78" x2="1952.00" y2="817.78" stroke="#231f20" stroke-width="2.8" stroke-linecap="butt"/>
<line x1="1516.80" y1="538.60" x2="1516.80" y2="850.40" stroke="#231f20" stroke-width="3.6" stroke-linecap="butt"/>
<line x1="1503.40" y1="848.60" x2="1980.90" y2="848.60" stroke="#231f20" stroke-width="3.6" stroke-linecap="butt"/>
<line x1="1503.40" y1="694.50" x2="1516.80" y2="694.50" stroke="#231f20" stroke-width="3.6" stroke-linecap="butt"/>
<line x1="1503.40" y1="540.40" x2="1516.80" y2="540.40" stroke="#231f20" stroke-width="3.6" stroke-linecap="butt"/>
<text transform="translate(1497.00,858.20) scale(1.02,1)" x="-18.98" y="0" font-family='"Liberation Sans", sans-serif' font-size="36.5" fill="#231f20">0</text>
<text transform="translate(1497.00,704.10) scale(1.02,1)" x="-18.62" y="0" font-family='"Liberation Sans", sans-serif' font-size="36.5" fill="#231f20">1</text>
<text transform="translate(1497.00,550.00) scale(1.02,1)" x="-18.43" y="0" font-family='"Liberation Sans", sans-serif' font-size="36.5" fill="#231f20">2</text>
<text transform="translate(1537.60,549.90) scale(1.02,1)" x="-1.46" y="0" font-family='"Liberation Sans", sans-serif' font-size="36.5" fill="#231f20">glu</text>
<rect x="1535.70" y="564.00" width="26.80" height="26.80" fill="#fff" stroke="#231f20" stroke-width="1.9"/>
<text transform="translate(1576.10,590.30) scale(1.02,1)" x="-2.92" y="0" font-family='"Liberation Sans", sans-serif' font-size="36.5" fill="#231f20">M + 0</text>
<rect x="1685.50" y="564.00" width="26.80" height="26.80" fill="#dcddde" stroke="#231f20" stroke-width="1.9"/>
<text transform="translate(1725.90,590.30) scale(1.02,1)" x="-2.92" y="0" font-family='"Liberation Sans", sans-serif' font-size="36.5" fill="#231f20">M + 1</text>
<rect x="1834.60" y="564.00" width="26.80" height="26.80" fill="#a7a9ac" stroke="#231f20" stroke-width="1.9"/>
<text transform="translate(1875.00,590.30) scale(1.02,1)" x="-2.92" y="0" font-family='"Liberation Sans", sans-serif' font-size="36.5" fill="#231f20">M + 2</text>
<rect x="1535.70" y="603.20" width="26.80" height="26.80" fill="#808285" stroke="#231f20" stroke-width="1.9"/>
<text transform="translate(1576.10,629.50) scale(1.02,1)" x="-2.92" y="0" font-family='"Liberation Sans", sans-serif' font-size="36.5" fill="#231f20">M + 3</text>
<rect x="1685.50" y="603.20" width="26.80" height="26.80" fill="#58595b" stroke="#231f20" stroke-width="1.9"/>
<text transform="translate(1725.90,629.50) scale(1.02,1)" x="-2.92" y="0" font-family='"Liberation Sans", sans-serif' font-size="36.5" fill="#231f20">M + 4</text>
<rect x="1834.60" y="603.20" width="26.80" height="26.80" fill="#231f20" stroke="#231f20" stroke-width="1.9"/>
<text transform="translate(1875.00,629.50) scale(1.02,1)" x="-2.92" y="0" font-family='"Liberation Sans", sans-serif' font-size="36.5" fill="#231f20">M + 5</text>
<line x1="1553.50" y1="1066.18" x2="1553.50" y2="1064.80" stroke="#231f20" stroke-width="3" stroke-linecap="butt"/>
<line x1="1545.00" y1="1064.80" x2="1562.00" y2="1064.80" stroke="#231f20" stroke-width="3" stroke-linecap="butt"/>
<rect x="1536.20" y="1081.70" width="34.60" height="133.20" fill="#fff" stroke="#231f20" stroke-width="3"/>
<rect x="1536.20" y="1071.39" width="34.60" height="10.31" fill="#dcddde" stroke="#231f20" stroke-width="3"/>
<rect x="1536.20" y="1067.38" width="34.60" height="4.00" fill="#a7a9ac" stroke="#231f20" stroke-width="3"/>
<line x1="1609.20" y1="1049.87" x2="1609.20" y2="1045.56" stroke="#231f20" stroke-width="3" stroke-linecap="butt"/>
<line x1="1600.70" y1="1045.56" x2="1617.70" y2="1045.56" stroke="#231f20" stroke-width="3" stroke-linecap="butt"/>
<rect x="1591.90" y="1214.56" width="34.60" height="0.34" fill="#fff" stroke="#231f20" stroke-width="3"/>
<rect x="1591.90" y="1213.02" width="34.60" height="1.54" fill="#dcddde" stroke="#231f20" stroke-width="3"/>
<rect x="1591.90" y="1209.63" width="34.60" height="3.39" fill="#a7a9ac" stroke="#231f20" stroke-width="3"/>
<rect x="1591.90" y="1187.77" width="34.60" height="21.86" fill="#58595b" stroke="#231f20" stroke-width="3"/>
<rect x="1591.90" y="1051.07" width="34.60" height="136.71" fill="#231f20" stroke="#231f20" stroke-width="3"/>
<line x1="1664.50" y1="1060.95" x2="1664.50" y2="1057.10" stroke="#231f20" stroke-width="3" stroke-linecap="butt"/>
<line x1="1656.00" y1="1057.10" x2="1673.00" y2="1057.10" stroke="#231f20" stroke-width="3" stroke-linecap="butt"/>
<rect x="1647.20" y="1209.63" width="34.60" height="5.27" fill="#fff" stroke="#231f20" stroke-width="3"/>
<rect x="1647.20" y="1206.40" width="34.60" height="3.23" fill="#dcddde" stroke="#231f20" stroke-width="3"/>
<rect x="1647.20" y="1201.47" width="34.60" height="4.93" fill="#a7a9ac" stroke="#231f20" stroke-width="3"/>
<rect x="1647.20" y="1172.84" width="34.60" height="28.63" fill="#58595b" stroke="#231f20" stroke-width="3"/>
<rect x="1647.20" y="1062.15" width="34.60" height="110.69" fill="#231f20" stroke="#231f20" stroke-width="3"/>
<line x1="1720.00" y1="1074.96" x2="1720.00" y2="1070.65" stroke="#231f20" stroke-width="3" stroke-linecap="butt"/>
<line x1="1711.50" y1="1070.65" x2="1728.50" y2="1070.65" stroke="#231f20" stroke-width="3" stroke-linecap="butt"/>
<rect x="1702.70" y="1211.48" width="34.60" height="3.42" fill="#fff" stroke="#231f20" stroke-width="3"/>
<rect x="1702.70" y="1206.40" width="34.60" height="5.08" fill="#dcddde" stroke="#231f20" stroke-width="3"/>
<rect x="1702.70" y="1197.16" width="34.60" height="9.24" fill="#a7a9ac" stroke="#231f20" stroke-width="3"/>
<rect x="1702.70" y="1160.68" width="34.60" height="36.49" fill="#58595b" stroke="#231f20" stroke-width="3"/>
<rect x="1702.70" y="1076.16" width="34.60" height="84.52" fill="#231f20" stroke="#231f20" stroke-width="3"/>
<line x1="1775.90" y1="1057.72" x2="1775.90" y2="1056.33" stroke="#231f20" stroke-width="3" stroke-linecap="butt"/>
<line x1="1767.40" y1="1056.33" x2="1784.40" y2="1056.33" stroke="#231f20" stroke-width="3" stroke-linecap="butt"/>
<rect x="1758.60" y="1074.47" width="34.60" height="140.43" fill="#fff" stroke="#231f20" stroke-width="3"/>
<rect x="1758.60" y="1063.07" width="34.60" height="11.39" fill="#dcddde" stroke="#231f20" stroke-width="3"/>
<rect x="1758.60" y="1058.92" width="34.60" height="4.16" fill="#a7a9ac" stroke="#231f20" stroke-width="3"/>
<line x1="1831.50" y1="1032.01" x2="1831.50" y2="1009.84" stroke="#231f20" stroke-width="3" stroke-linecap="butt"/>
<line x1="1823.00" y1="1009.84" x2="1840.00" y2="1009.84" stroke="#231f20" stroke-width="3" stroke-linecap="butt"/>
<rect x="1814.20" y="1215.33" width="34.60" height="-0.43" fill="#fff" stroke="#231f20" stroke-width="3"/>
<rect x="1814.20" y="1214.56" width="34.60" height="0.77" fill="#dcddde" stroke="#231f20" stroke-width="3"/>
<rect x="1814.20" y="1213.02" width="34.60" height="1.54" fill="#a7a9ac" stroke="#231f20" stroke-width="3"/>
<rect x="1814.20" y="1187.47" width="34.60" height="25.56" fill="#58595b" stroke="#231f20" stroke-width="3"/>
<rect x="1814.20" y="1033.21" width="34.60" height="154.26" fill="#231f20" stroke="#231f20" stroke-width="3"/>
<line x1="1887.10" y1="1064.18" x2="1887.10" y2="1060.95" stroke="#231f20" stroke-width="3" stroke-linecap="butt"/>
<line x1="1878.60" y1="1060.95" x2="1895.60" y2="1060.95" stroke="#231f20" stroke-width="3" stroke-linecap="butt"/>
<rect x="1869.80" y="1215.33" width="34.60" height="-0.43" fill="#fff" stroke="#231f20" stroke-width="3"/>
<rect x="1869.80" y="1214.25" width="34.60" height="1.08" fill="#dcddde" stroke="#231f20" stroke-width="3"/>
<rect x="1869.80" y="1212.25" width="34.60" height="2.00" fill="#a7a9ac" stroke="#231f20" stroke-width="3"/>
<rect x="1869.80" y="1186.85" width="34.60" height="25.40" fill="#58595b" stroke="#231f20" stroke-width="3"/>
<rect x="1869.80" y="1065.38" width="34.60" height="121.47" fill="#231f20" stroke="#231f20" stroke-width="3"/>
<line x1="1943.00" y1="1081.43" x2="1943.00" y2="1076.50" stroke="#231f20" stroke-width="3" stroke-linecap="butt"/>
<line x1="1934.50" y1="1076.50" x2="1951.50" y2="1076.50" stroke="#231f20" stroke-width="3" stroke-linecap="butt"/>
<rect x="1925.70" y="1213.79" width="34.60" height="1.11" fill="#fff" stroke="#231f20" stroke-width="3"/>
<rect x="1925.70" y="1211.48" width="34.60" height="2.31" fill="#dcddde" stroke="#231f20" stroke-width="3"/>
<rect x="1925.70" y="1209.63" width="34.60" height="1.85" fill="#a7a9ac" stroke="#231f20" stroke-width="3"/>
<rect x="1925.70" y="1177.61" width="34.60" height="32.02" fill="#58595b" stroke="#231f20" stroke-width="3"/>
<rect x="1925.70" y="1082.63" width="34.60" height="94.99" fill="#231f20" stroke="#231f20" stroke-width="3"/>
<line x1="1553.50" y1="1080.50" x2="1553.50" y2="1074.96" stroke="#231f20" stroke-width="2.8" stroke-linecap="butt"/>
<line x1="1544.50" y1="1074.96" x2="1562.50" y2="1074.96" stroke="#231f20" stroke-width="2.8" stroke-linecap="butt"/>
<line x1="1775.90" y1="1073.27" x2="1775.90" y2="1067.88" stroke="#231f20" stroke-width="2.8" stroke-linecap="butt"/>
<line x1="1766.90" y1="1067.88" x2="1784.90" y2="1067.88" stroke="#231f20" stroke-width="2.8" stroke-linecap="butt"/>
<line x1="1664.50" y1="1205.20" x2="1664.50" y2="1201.81" stroke="#231f20" stroke-width="2.8" stroke-linecap="butt"/>
<line x1="1655.50" y1="1201.81" x2="1673.50" y2="1201.81" stroke="#231f20" stroke-width="2.8" stroke-linecap="butt"/>
<line x1="1720.00" y1="1205.20" x2="1720.00" y2="1198.74" stroke="#231f20" stroke-width="2.8" stroke-linecap="butt"/>
<line x1="1711.00" y1="1198.74" x2="1729.00" y2="1198.74" stroke="#231f20" stroke-width="2.8" stroke-linecap="butt"/>
<line x1="1516.80" y1="905.20" x2="1516.80" y2="1216.70" stroke="#231f20" stroke-width="3.6" stroke-linecap="butt"/>
<line x1="1503.40" y1="1214.90" x2="1980.90" y2="1214.90" stroke="#231f20" stroke-width="3.6" stroke-linecap="butt"/>
<line x1="1503.40" y1="1060.95" x2="1516.80" y2="1060.95" stroke="#231f20" stroke-width="3.6" stroke-linecap="butt"/>
<line x1="1503.40" y1="907.00" x2="1516.80" y2="907.00" stroke="#231f20" stroke-width="3.6" stroke-linecap="butt"/>
<text transform="translate(1497.00,1224.50) scale(1.02,1)" x="-18.98" y="0" font-family='"Liberation Sans", sans-serif' font-size="36.5" fill="#231f20">0</text>
<text transform="translate(1497.00,1070.55) scale(1.02,1)" x="-18.62" y="0" font-family='"Liberation Sans", sans-serif' font-size="36.5" fill="#231f20">1</text>
<text transform="translate(1497.00,916.60) scale(1.02,1)" x="-18.43" y="0" font-family='"Liberation Sans", sans-serif' font-size="36.5" fill="#231f20">2</text>
<text transform="translate(1537.60,916.50) scale(1.02,1)" x="-1.46" y="0" font-family='"Liberation Sans", sans-serif' font-size="36.5" fill="#231f20">asp</text>
<rect x="1535.70" y="928.40" width="26.80" height="26.80" fill="#fff" stroke="#231f20" stroke-width="1.9"/>
<text transform="translate(1576.10,954.70) scale(1.02,1)" x="-2.92" y="0" font-family='"Liberation Sans", sans-serif' font-size="36.5" fill="#231f20">M + 0</text>
<rect x="1685.50" y="928.40" width="26.80" height="26.80" fill="#dcddde" stroke="#231f20" stroke-width="1.9"/>
<text transform="translate(1725.90,954.70) scale(1.02,1)" x="-2.92" y="0" font-family='"Liberation Sans", sans-serif' font-size="36.5" fill="#231f20">M + 1</text>
<rect x="1834.60" y="928.40" width="26.80" height="26.80" fill="#a7a9ac" stroke="#231f20" stroke-width="1.9"/>
<text transform="translate(1875.00,954.70) scale(1.02,1)" x="-2.92" y="0" font-family='"Liberation Sans", sans-serif' font-size="36.5" fill="#231f20">M + 2</text>
<rect x="1535.70" y="966.10" width="26.80" height="26.80" fill="#58595b" stroke="#231f20" stroke-width="1.9"/>
<text transform="translate(1576.10,992.40) scale(1.02,1)" x="-2.92" y="0" font-family='"Liberation Sans", sans-serif' font-size="36.5" fill="#231f20">M + 3</text>
<rect x="1685.50" y="966.10" width="26.80" height="26.80" fill="#231f20" stroke="#231f20" stroke-width="1.9"/>
<text transform="translate(1725.90,992.40) scale(1.02,1)" x="-2.92" y="0" font-family='"Liberation Sans", sans-serif' font-size="36.5" fill="#231f20">M + 4</text>
<text transform="translate(1460.90,876.70) rotate(-90) scale(1.0072,1)" x="-161.97" y="0" font-family='"Liberation Sans", sans-serif' font-size="36.5" fill="#231f20">Relative abundance</text>
<text transform="translate(1553.50,1250.70) scale(1.02,1)" x="-10.22" y="0" font-family='"Liberation Sans", sans-serif' font-size="36.5" fill="#231f20">0</text>
<text transform="translate(1609.20,1250.70) scale(1.02,1)" x="-10.13" y="0" font-family='"Liberation Sans", sans-serif' font-size="36.5" fill="#231f20">2</text>
<text transform="translate(1664.50,1250.70) scale(1.02,1)" x="-9.95" y="0" font-family='"Liberation Sans", sans-serif' font-size="36.5" fill="#231f20">4</text>
<text transform="translate(1720.00,1250.70) scale(1.02,1)" x="-10.31" y="0" font-family='"Liberation Sans", sans-serif' font-size="36.5" fill="#231f20">6</text>
<text transform="translate(1775.90,1250.70) scale(1.02,1)" x="-10.22" y="0" font-family='"Liberation Sans", sans-serif' font-size="36.5" fill="#231f20">0</text>
<text transform="translate(1831.50,1250.70) scale(1.02,1)" x="-10.13" y="0" font-family='"Liberation Sans", sans-serif' font-size="36.5" fill="#231f20">2</text>
<text transform="translate(1887.10,1250.70) scale(1.02,1)" x="-9.95" y="0" font-family='"Liberation Sans", sans-serif' font-size="36.5" fill="#231f20">4</text>
<text transform="translate(1943.00,1250.70) scale(1.02,1)" x="-10.31" y="0" font-family='"Liberation Sans", sans-serif' font-size="36.5" fill="#231f20">6</text>
<text transform="translate(1981.50,1250.70) scale(1.02,1)" x="-2.56" y="0" font-family='"Liberation Sans", sans-serif' font-size="36.5" fill="#231f20">h</text>
<line x1="1535.00" y1="1259.50" x2="1737.20" y2="1259.50" stroke="#231f20" stroke-width="1.5" stroke-linecap="butt"/>
<line x1="1762.00" y1="1259.50" x2="1962.60" y2="1259.50" stroke="#231f20" stroke-width="1.5" stroke-linecap="butt"/>
<text transform="translate(1635.80,1294.60) scale(0.9973,1)" x="-43.80" y="0" font-family='"Liberation Sans", sans-serif' font-size="36.5" fill="#231f20" font-style="italic">ATG1</text>
<text transform="translate(1816.60,1294.60) scale(1.02,1)" x="-0.73" y="0" font-family='"Liberation Sans", sans-serif' font-size="36.5" fill="#231f20" font-style="italic">atg1</text>
<text transform="translate(1886.30,1294.60) scale(1.02,1)" x="-1.50" y="0" font-family='"Liberation Serif", serif' font-size="37.5" fill="#231f20">Δ</text>
</svg></body></html>
